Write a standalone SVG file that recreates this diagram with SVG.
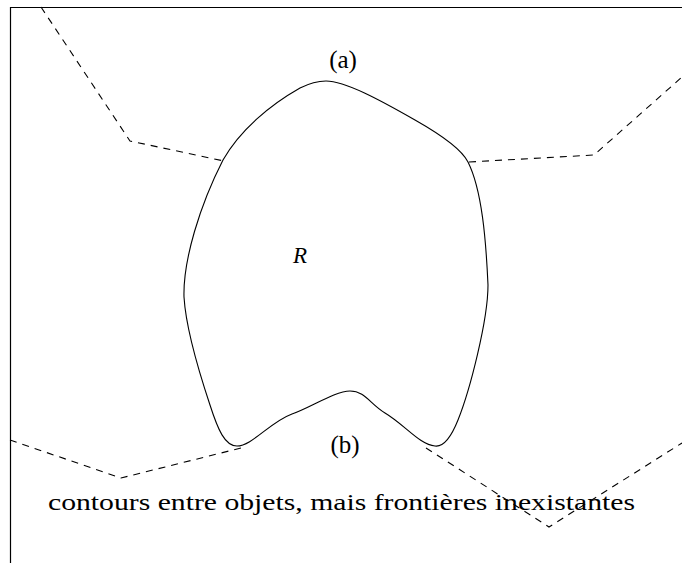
<svg xmlns="http://www.w3.org/2000/svg" width="682" height="563" viewBox="0 0 682 563">
<style>
.frame{fill:none;stroke:#000;stroke-width:1.2}
.dash{fill:none;stroke:#000;stroke-width:1.1;stroke-dasharray:7 6}
.contour{fill:none;stroke:#000;stroke-width:1.1}
text{font-family:'Liberation Serif','Times New Roman','DejaVu Serif',serif;fill:#000}
</style>
<rect width="682" height="563" fill="#fff"/>
<g id="frame">
<path class="frame" d="M10.5,563 V7.5 H682"/>
</g>
<g id="connectors">
<path class="dash" d="M41,7 L130,141 L224,161"/>
<path class="dash" d="M469,162 L594,155 L682,77"/>
<path class="dash" d="M10,440 L121,478 L241,448"/>
<path class="dash" d="M426,448 L549,527 L682,443"/>
</g>
<g id="region-R">
<path class="contour" d="M326,81 C345,81 380,100 415,120 C445,137 462,150 468,162 C482,190 486,240 488,285 C488,320 470,390 458,420 C450,440 442,447 435,446 C420,445 405,425 385,413 C370,404 365,391 350,391 C335,391 310,408 292,414 C270,422 252,446 237,446 C225,446 218,430 210,405 C200,375 186,330 184,297 C183,260 200,205 223,160 C240,130 270,105 300,88 C310,83 318,81 326,81 Z"/>
<text x="300" y="263" text-anchor="middle" style="font-size:23px;font-style:italic">R</text>
</g>
<g id="label-a"><text x="343" y="68" text-anchor="middle" style="font-size:25px">(a)</text></g>
<g id="label-b"><text x="345" y="453" text-anchor="middle" style="font-size:25px">(b)</text></g>
<g id="caption"><text x="48" y="510" style="font-size:24px" textLength="587" lengthAdjust="spacingAndGlyphs">contours entre objets, mais frontières inexistantes</text></g>
</svg>
